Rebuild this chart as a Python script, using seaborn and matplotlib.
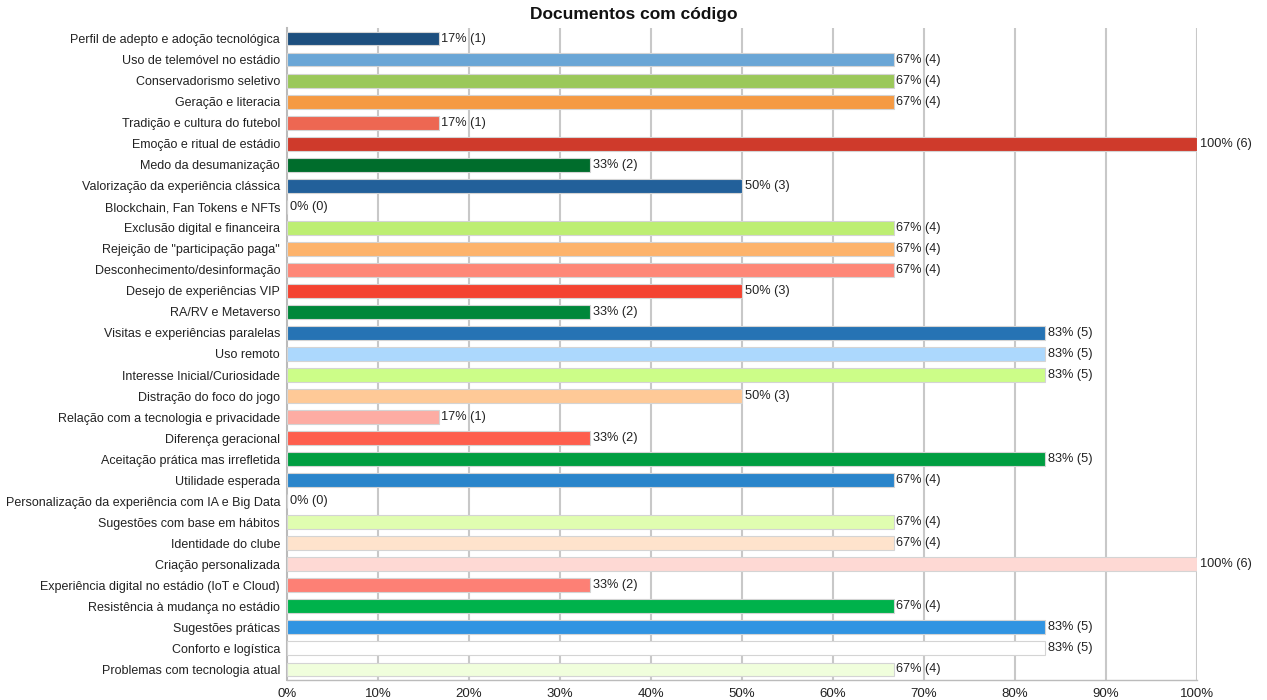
import matplotlib
matplotlib.use("Agg")
import matplotlib.pyplot as plt
import seaborn as sns
import pandas as pd

categories = [
    "Perfil de adepto e adoção tecnológica",
    "Uso de telemóvel no estádio",
    "Conservadorismo seletivo",
    "Geração e literacia",
    "Tradição e cultura do futebol",
    "Emoção e ritual de estádio",
    "Medo da desumanização",
    "Valorização da experiência clássica",
    "Blockchain, Fan Tokens e NFTs",
    "Exclusão digital e financeira",
    "Rejeição de \"participação paga\"",
    "Desconhecimento/desinformação",
    "Desejo de experiências VIP",
    "RA/RV e Metaverso",
    "Visitas e experiências paralelas",
    "Uso remoto",
    "Interesse Inicial/Curiosidade",
    "Distração do foco do jogo",
    "Relação com a tecnologia e privacidade",
    "Diferença geracional",
    "Aceitação prática mas irrefletida",
    "Utilidade esperada",
    "Personalização da experiência com IA e Big Data",
    "Sugestões com base em hábitos",
    "Identidade do clube",
    "Criação personalizada",
    "Experiência digital no estádio (IoT e Cloud)",
    "Resistência à mudança no estádio",
    "Sugestões práticas",
    "Conforto e logística",
    "Problemas com tecnologia atual",
]
counts = [1, 4, 4, 4, 1, 6, 2, 3, 0, 4, 4, 4, 3, 2, 5, 5, 5, 3, 1, 2, 5, 4, 0, 4, 4, 6, 2, 4, 5, 5, 4]
total_docs = 6
colors = [
    "#1d4f7e", "#6aa6d6", "#9bc85a", "#f59a43", "#ed6752", "#cf3a2b", "#006d2c",
    "#22609a", "#ffffff", "#bdee72", "#fdb36b", "#fe8777", "#f44331", "#00873a",
    "#2673b4", "#acd8fd", "#ccfd88", "#fec997", "#fdaca3", "#fe5e4d", "#009e41",
    "#2a85cb", "#ffffff", "#e0fdb0", "#fee3cc", "#fed9d4", "#fd8075", "#00b24b",
    "#3194e2", "#ffffff", "#f0fedc",
]
x_ticks = [0, 10, 20, 30, 40, 50, 60, 70, 80, 90, 100]
x_tick_labels = [f"{t}%" for t in x_ticks]

pct = [c / total_docs * 100 for c in counts]
df = pd.DataFrame({"cat": categories, "pct": pct})

sns.set_theme(style="white")
plt.rcParams["font.family"] = ["Liberation Sans", "DejaVu Sans"]

fig = plt.figure(figsize=(12.67, 7.0), dpi=100)
ax = fig.add_axes([0.2265, 0.0286, 0.9448 - 0.2265, 0.96 - 0.0286])

sns.barplot(data=df, y="cat", x="pct", hue="cat", palette=colors, legend=False,
            orient="h", width=0.66, saturation=1, edgecolor="#d4d4d4", linewidth=0.8,
            ax=ax, zorder=3)

ax.set_xlim(0, 100)
ax.set_ylim(len(categories) - 0.5, -0.5)
ax.set_xticks(x_ticks)
ax.set_xticklabels(x_tick_labels, fontsize=9.5, color="#222222")
ax.tick_params(axis="y", labelsize=9, labelcolor="#222222", length=0, pad=5)
ax.tick_params(axis="x", length=3, color="#bbbbbb", pad=3)
ax.set_xlabel("")
ax.set_ylabel("")
for x in x_ticks[1:]:
    ax.axvline(x, color="#c8c8c8", lw=1.5, zorder=1)
for s in ["top", "right"]:
    ax.spines[s].set_visible(False)
ax.spines["left"].set_color("#bbbbbb")
ax.spines["left"].set_linewidth(1.5)
ax.spines["bottom"].set_color("#bbbbbb")
ax.spines["bottom"].set_linewidth(1.0)

for i, (p, c) in enumerate(zip(pct, counts)):
    ax.text(p + 0.3, i, f"{round(p)}% ({c})", va="center", ha="left",
            fontsize=9.2, color="#222222", zorder=4, clip_on=False)

fig.text(0.5, 0.979, "Documentos com código", ha="center", va="center",
         fontsize=12.5, fontweight="bold", color="#111111")

fig.savefig("out.png", dpi=100, facecolor="white")
